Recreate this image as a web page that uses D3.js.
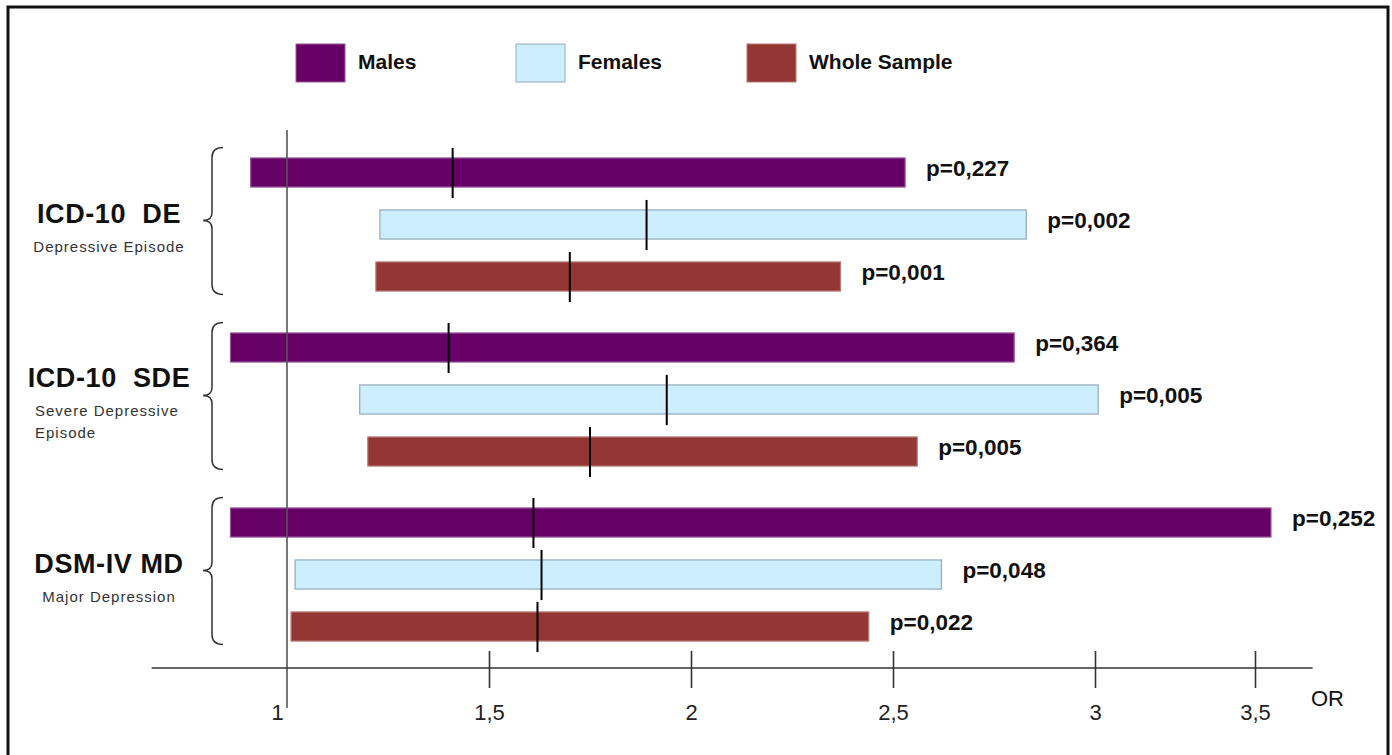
<!DOCTYPE html>
<html>
<head>
<meta charset="utf-8">
<script src="https://cdn.jsdelivr.net/npm/d3@7"></script>
<style>
  body { margin: 0; background: #fff; }
  svg { display: block; font-family: "Liberation Sans", Arial, sans-serif; }
</style>
</head>
<body>
<div id="chart"><svg width="1392" height="755"></svg></div>
<script>
// ***** DATA *****
const groups = ["ICD-10  DE", "ICD-10  SDE", "DSM-IV MD"];
const groupNotes = [["Depressive Episode"], ["Severe Depressive", "Episode"], ["Major Depression"]];
const series = ["Males", "Females", "Whole Sample"];

// odds ratio: lower end, point estimate, upper end (rows = groups, cols = series)
const orLow  = [[0.91, 1.23, 1.22], [0.86, 1.18, 1.20], [0.86, 1.02, 1.01]];
const orMid  = [[1.41, 1.89, 1.70], [1.40, 1.94, 1.75], [1.61, 1.63, 1.62]];
const orHigh = [[2.53, 2.83, 2.37], [2.80, 3.01, 2.56], [3.55, 2.62, 2.44]];
const pLabels = [["p=0,227", "p=0,002", "p=0,001"],
                 ["p=0,364", "p=0,005", "p=0,005"],
                 ["p=0,252", "p=0,048", "p=0,022"]];

const tickValues = [1, 1.5, 2, 2.5, 3, 3.5];
const tickLabels = ["1", "1,5", "2", "2,5", "3", "3,5"];

// ***** STYLE / LAYOUT *****
const fills   = ["#660066", "#cceeff", "#943634"];
const strokes = ["#9a5a9a", "#93aabb", "#b87a78"];
const legendX = [296, 516, 747];

const svg = d3.select("#chart").select("svg");

// frame
svg.append("rect")
    .attr("x", 8).attr("y", 7)
    .attr("width", 1380).attr("height", 760)
    .attr("fill", "none")
    .attr("stroke", "#111")
    .attr("stroke-width", 3);

// the axis in the original is not evenly spaced past 3
const xScale = d3.scaleLinear()
    .domain([1, 3, 3.5])
    .range([287, 1095, 1255]);

const yGroup = d3.scaleBand()
    .domain(groups)
    .range([146.5, 652.5])
    .paddingInner(19 / 175);

const yRow = d3.scaleBand()
    .domain(series)
    .range([0, yGroup.bandwidth()])
    .paddingInner(0.44)
    .paddingOuter(0.22);

// table built from the arrays
const rows = [];
groups.forEach((g, gi) => {
    series.forEach((s, si) => {
        rows.push({group: g, series: s, si: si,
                   low: orLow[gi][si], mid: orMid[gi][si], high: orHigh[gi][si],
                   p: pLabels[gi][si]});
    });
});

/***** LEGEND *****/
const legend = svg.append("g").attr("class", "legend");
series.forEach((s, i) => {
    legend.append("rect")
        .attr("x", legendX[i]).attr("y", 44)
        .attr("width", 49).attr("height", 38)
        .attr("fill", fills[i])
        .attr("stroke", strokes[i]);
    legend.append("text")
        .attr("x", legendX[i] + 62).attr("y", 63)
        .attr("dominant-baseline", "middle")
        .style("font-size", "21px")
        .style("font-weight", "bold")
        .attr("fill", "#111")
        .text(s);
});

/***** BARS *****/
const plot = svg.append("g").attr("id", "plot");

plot.selectAll(".bar")
    .data(rows)
    .join("rect")
    .attr("class", "bar")
    .attr("x", d => xScale(d.low))
    .attr("y", d => yGroup(d.group) + yRow(d.series))
    .attr("width", d => xScale(d.high) - xScale(d.low))
    .attr("height", yRow.bandwidth())
    .attr("fill", d => fills[d.si])
    .attr("stroke", d => strokes[d.si])
    .attr("stroke-width", 1.2);

plot.selectAll(".pLabel")
    .data(rows)
    .join("text")
    .attr("class", "pLabel")
    .attr("x", d => xScale(d.high) + 21)
    .attr("y", d => yGroup(d.group) + yRow(d.series) + yRow.bandwidth() / 2 - 2)
    .attr("dominant-baseline", "middle")
    .style("font-size", "22.5px")
    .style("font-weight", "bold")
    .attr("fill", "#111")
    .text(d => d.p);

// reference line at OR = 1 (sits over the bars)
svg.append("line")
    .attr("x1", xScale(1)).attr("x2", xScale(1))
    .attr("y1", 130).attr("y2", 708)
    .attr("stroke", "#555")
    .attr("stroke-width", 1.6);

// point estimates
plot.selectAll(".mid")
    .data(rows)
    .join("line")
    .attr("class", "mid")
    .attr("x1", d => xScale(d.mid)).attr("x2", d => xScale(d.mid))
    .attr("y1", d => yGroup(d.group) + yRow(d.series) - 10)
    .attr("y2", d => yGroup(d.group) + yRow(d.series) + yRow.bandwidth() + 11)
    .attr("stroke", "#000")
    .attr("stroke-width", 2);

/***** GROUP LABELS + BRACES *****/
const labels = svg.append("g").attr("class", "groupLabels");
groups.forEach((g, gi) => {
    const y0 = yGroup(g);
    const y1 = y0 + yGroup.bandwidth() - 8;
    const ym = (y0 + y1) / 2;
    labels.append("path")
        .attr("d", `M223,${y0 + 1} Q212,${y0 + 1} 212,${y0 + 11} L212,${ym - 8} Q212,${ym} 203,${ym}`
                 + ` Q212,${ym} 212,${ym + 8} L212,${y1 - 10} Q212,${y1} 223,${y1}`)
        .attr("fill", "none")
        .attr("stroke", "#333")
        .attr("stroke-width", 1.5);

    const notes = groupNotes[gi];
    const ty = y0 + 69 - 11 * (notes.length - 1);
    labels.append("text")
        .attr("x", 109).attr("y", ty)
        .attr("text-anchor", "middle")
        .attr("dominant-baseline", "middle")
        .style("font-size", "27px")
        .style("font-weight", "bold")
        .style("letter-spacing", "0.6px")
        .style("white-space", "pre")
        .attr("fill", "#111")
        .text(g);
    notes.forEach((n, ni) => {
        labels.append("text")
            .attr("x", notes.length > 1 ? 35 : 109)
            .attr("y", ty + 33 + ni * 22)
            .attr("text-anchor", notes.length > 1 ? "start" : "middle")
            .attr("dominant-baseline", "middle")
            .style("font-size", "15px")
            .style("letter-spacing", "1px")
            .attr("fill", "#333")
            .text(n);
    });
});

/***** X AXIS *****/
const axisY = 668;
svg.append("line")
    .attr("x1", xScale(0.665)).attr("x2", xScale(3.68))
    .attr("y1", axisY).attr("y2", axisY)
    .attr("stroke", "#333")
    .attr("stroke-width", 1.6);

const xAxis = svg.append("g")
    .attr("class", "xAxis")
    .attr("transform", `translate(0, ${axisY})`)
    .call(d3.axisBottom(xScale)
        .tickValues(tickValues)
        .tickFormat((d, i) => tickLabels[i])
        .tickSize(20)
        .tickPadding(16));

xAxis.select(".domain").remove();
xAxis.selectAll(".tick line")
    .attr("y1", -17)
    .attr("stroke", "#333")
    .attr("stroke-width", 1.6)
    .style("display", d => d === 1 ? "none" : null);
xAxis.selectAll(".tick text")
    .attr("dx", d => d === 1 ? -10 : 0)
    .style("font-size", "22px")
    .style("font-family", "'Liberation Sans', Arial, sans-serif")
    .attr("fill", "#222");

svg.append("text")
    .attr("x", 1311).attr("y", 700)
    .attr("dominant-baseline", "middle")
    .style("font-size", "22px")
    .attr("fill", "#111")
    .text("OR");
</script>
</body>
</html>
